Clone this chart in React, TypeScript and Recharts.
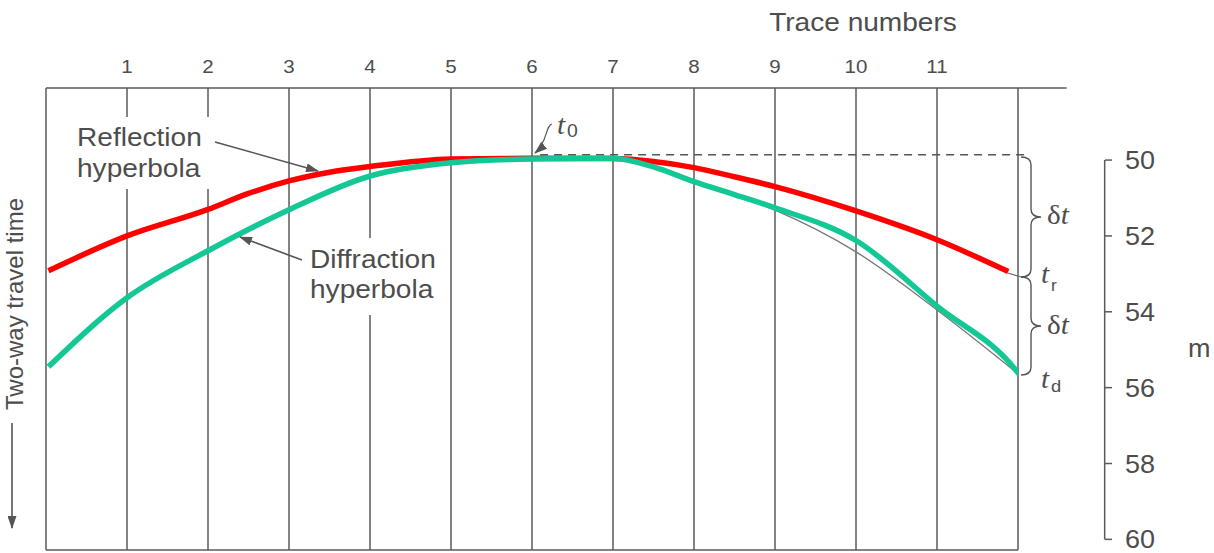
import React from "react"
import { LineChart, Line, XAxis, YAxis, ReferenceLine } from "recharts"

// trace numbers shown along the top, and every trace position (0 and 12 are unlabelled)
const TRACES = [1, 2, 3, 4, 5, 6, 7, 8, 9, 10, 11]
const TRACE_LINES = [0, 1, 2, 3, 4, 5, 6, 7, 8, 9, 10, 11, 12]

// two-way time scale on the right (ms)
const TIME_TICKS = [50, 52, 54, 56, 58, 60]
const TIME_DOMAIN = [48.1, 60.28]

// reflection hyperbola (red)
const REFLECTION_X = [0.03, 1, 2, 2.5, 3, 3.5, 4, 5, 6, 7, 7.5, 8, 8.5, 9, 10, 11, 11.88]
const REFLECTION_T = [52.92, 52.0, 51.3, 50.88, 50.55, 50.32, 50.17, 49.97, 49.95, 49.96, 50.04, 50.2, 50.44, 50.7, 51.34, 52.1, 52.94]

// diffraction hyperbola (green)
const DIFFRACTION_X = [0.03, 1, 2, 3, 4, 5, 6, 7, 7.5, 8, 8.5, 9, 10, 11, 12, 12.09]
const DIFFRACTION_T = [55.45, 53.63, 52.39, 51.31, 50.42, 50.07, 49.97, 49.95, 50.18, 50.57, 50.91, 51.26, 52.12, 53.85, 55.61, 55.87]

// thin pencil curve left under the green one
const SKETCH_X = [8, 9, 10, 11, 12]
const SKETCH_T = [50.6, 51.32, 52.42, 53.95, 55.63]

// apex time t0 and the flat dashed line drawn from it
const T0 = 49.86
const T0_FROM = 6.1
const T0_TO = 12.15

const INK = "#4d4d4d"
const LINE = "#5a5a5a"
const SANS = "'Liberation Sans', Arial, sans-serif"
const SERIF = "'Liberation Serif', 'Times New Roman', serif"
const SCALE_X_POS = 13.07

const toRows = (xs: number[], ts: number[]) => xs.map((x, i) => ({ x, t: ts[i] }))
const reflection = toRows(REFLECTION_X, REFLECTION_T)
const diffraction = toRows(DIFFRACTION_X, DIFFRACTION_T)
const sketch = toRows(SKETCH_X, SKETCH_T)

function Txt({ x, y, size = 26, anchor = "start", children, family = SANS, italic = false }: any) {
  return (
    <text
      transform={`translate(${x},${y}) scale(1.08,1)`}
      fontSize={size}
      fontFamily={family}
      fontStyle={italic ? "italic" : "normal"}
      textAnchor={anchor}
      fill={INK}
    >
      {children}
    </text>
  )
}

function TraceTick({ x, y, payload }: any) {
  return (
    <Txt x={x} y={y - 7} size={19} anchor="middle">
      {payload.value}
    </Txt>
  )
}

function TimeTick({ x, y, payload }: any) {
  const v = payload.value
  return (
    <g>
      <line x1={x + 87} y1={y} x2={x + 94} y2={y} stroke={LINE} strokeWidth={1.5} />
      <Txt x={x + 107} y={y + 9} size={25}>
        {v}
      </Txt>
    </g>
  )
}

// right-facing curly brace between y0 and y1
function brace(x0: number, y0: number, y1: number, w: number) {
  const ym = (y0 + y1) / 2
  const xm = x0 + w / 2
  const r = 8
  return `M${x0},${y0} Q${xm},${y0} ${xm},${y0 + r} L${xm},${ym - r} Q${xm},${ym} ${x0 + w},${ym} Q${xm},${ym} ${xm},${ym + r} L${xm},${y1 - r} Q${xm},${y1} ${x0},${y1}`
}

function Notes() {
  return (
    <svg
      width={1214}
      height={553}
      style={{ position: "absolute", left: 0, top: 0, pointerEvents: "none" }}
    >
      <defs>
        <marker
          id="head"
          markerWidth={13}
          markerHeight={9}
          refX={12}
          refY={4.5}
          orient="auto"
          markerUnits="userSpaceOnUse"
        >
          <path d="M0,0 L13,4.5 L0,9 z" fill="#555" />
        </marker>
      </defs>

      <Txt x={863} y={31} size={26} anchor="middle">
        Trace numbers
      </Txt>

      {/* reflection label */}
      <rect x={72} y={117} width={142} height={72} fill="#fff" />
      <Txt x={77} y={146}>Reflection</Txt>
      <Txt x={77} y={177}>hyperbola</Txt>
      <line x1={215} y1={142} x2={318} y2={171} stroke="#555" strokeWidth={1.6} markerEnd="url(#head)" />

      {/* diffraction label */}
      <rect x={303} y={238} width={140} height={77} fill="#fff" />
      <Txt x={310} y={268}>Diffraction</Txt>
      <Txt x={310} y={298}>hyperbola</Txt>
      <line x1={302} y1={260} x2={240} y2={237} stroke="#555" strokeWidth={1.6} markerEnd="url(#head)" />

      {/* t0 */}
      <path d="M552,124 C545,126 548,142 535,153" fill="none" stroke="#555" strokeWidth={1.2} markerEnd="url(#head)" />
      <Txt x={557} y={134} size={27} family={SERIF} italic>
        t
      </Txt>
      <Txt x={567} y={137} size={18}>
        0
      </Txt>

      {/* braces and time differences */}
      <path d={brace(1021, 157, 277, 20)} fill="none" stroke="#555" strokeWidth={1.4} />
      <path d={brace(1021, 277, 375, 20)} fill="none" stroke="#555" strokeWidth={1.4} />
      <line x1={1008} y1={273} x2={1021} y2={277} stroke="#666" strokeWidth={1.2} />
      <Txt x={1047} y={224} size={27} family={SERIF}>
        δ<tspan fontStyle="italic">t</tspan>
      </Txt>
      <Txt x={1047} y={334} size={27} family={SERIF}>
        δ<tspan fontStyle="italic">t</tspan>
      </Txt>
      <Txt x={1041} y={283} size={27} family={SERIF} italic>
        t
      </Txt>
      <Txt x={1051} y={291} size={16}>
        r
      </Txt>
      <Txt x={1041} y={388} size={27} family={SERIF} italic>
        t
      </Txt>
      <Txt x={1051} y={392} size={17}>
        d
      </Txt>

      <Txt x={1188} y={357} size={25}>
        m
      </Txt>

      {/* vertical axis title with downward arrow */}
      <text
        transform="translate(23,304) rotate(-90)"
        fontSize={24}
        fontFamily={SANS}
        textAnchor="middle"
        fill={INK}
      >
        Two-way travel time
      </text>
      <line x1={12} y1={423} x2={12} y2={528} stroke="#555" strokeWidth={1.6} markerEnd="url(#head)" />
    </svg>
  )
}

export default function App() {
  return (
    <div style={{ position: "absolute", left: 0, top: 0, width: 1214, height: 553, background: "#fff" }}>
      <LineChart width={1214} height={553} margin={{ top: 58, right: 96, bottom: 3, left: 46 }}>
        <XAxis
          xAxisId={0}
          dataKey="x"
          type="number"
          orientation="top"
          domain={[0, 12]}
          ticks={TRACES}
          height={30}
          axisLine={false}
          tickLine={false}
          tick={<TraceTick />}
          allowDataOverflow
        />
        <YAxis
          yAxisId={0}
          dataKey="t"
          type="number"
          orientation="right"
          reversed
          domain={TIME_DOMAIN}
          ticks={TIME_TICKS}
          width={100}
          axisLine={false}
          tickLine={false}
          tickSize={0}
          tickMargin={0}
          tick={<TimeTick />}
          allowDataOverflow
        />

        {TRACE_LINES.map((n) => (
          <ReferenceLine key={n} x={n} stroke={LINE} strokeWidth={1.5} ifOverflow="visible" />
        ))}
        <ReferenceLine
          segment={[{ x: 0, y: TIME_DOMAIN[0] }, { x: 12.6, y: TIME_DOMAIN[0] }]}
          stroke={LINE}
          strokeWidth={1.5}
          ifOverflow="visible"
        />
        <ReferenceLine
          segment={[{ x: 0, y: TIME_DOMAIN[1] }, { x: 12, y: TIME_DOMAIN[1] }]}
          stroke={LINE}
          strokeWidth={1.5}
          ifOverflow="visible"
        />
        <ReferenceLine
          segment={[{ x: T0_FROM, y: T0 }, { x: T0_TO, y: T0 }]}
          stroke="#555"
          strokeWidth={1.4}
          strokeDasharray="8 6"
          ifOverflow="visible"
        />
        <ReferenceLine
          segment={[{ x: SCALE_X_POS, y: TIME_TICKS[0] }, { x: SCALE_X_POS, y: TIME_TICKS[TIME_TICKS.length - 1] }]}
          stroke={LINE}
          strokeWidth={1.5}
          ifOverflow="visible"
        />

        <Line
          data={sketch}
          dataKey="t"
          type="monotone"
          stroke="#777"
          strokeWidth={1.3}
          dot={false}
          isAnimationActive={false}
        />
        <Line
          data={reflection}
          dataKey="t"
          type="monotone"
          stroke="#ff0000"
          strokeWidth={5.5}
          dot={false}
          isAnimationActive={false}
        />
        <Line
          data={diffraction}
          dataKey="t"
          type="monotone"
          stroke="#14c896"
          strokeWidth={5.5}
          dot={false}
          isAnimationActive={false}
        />
      </LineChart>
      <Notes />
    </div>
  )
}
